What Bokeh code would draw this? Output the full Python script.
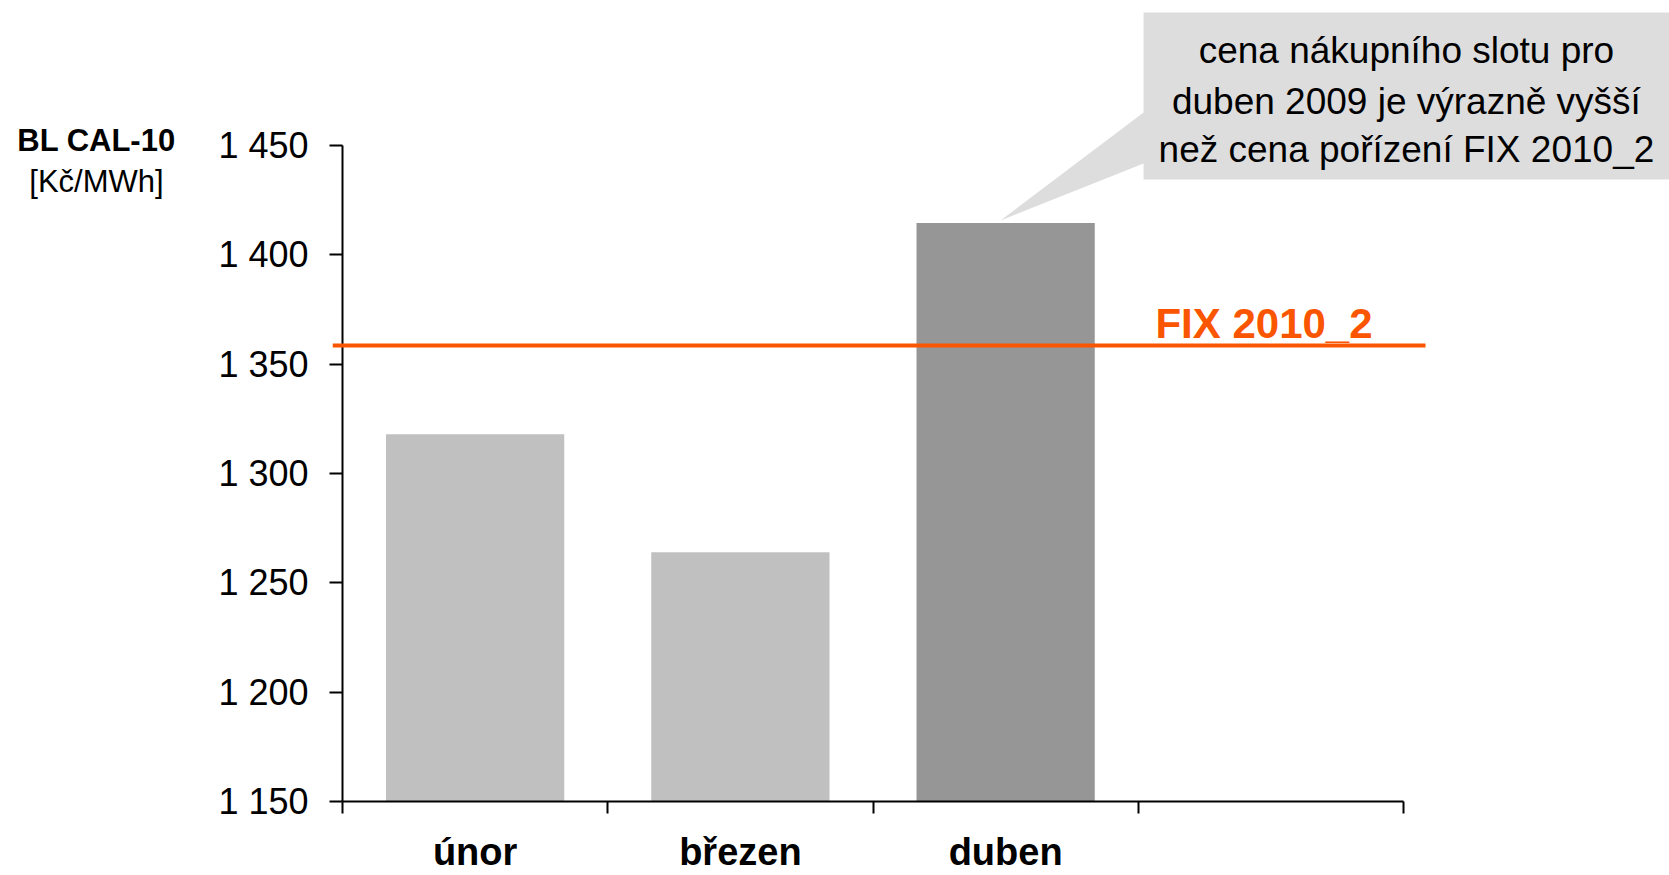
from bokeh.plotting import figure
from bokeh.layouts import row
from bokeh.models import Range1d, FixedTicker, LinearAxis, Label
from bokeh.embed import file_html
from bokeh.resources import INLINE

# ---- data ----
categories = ["únor", "březen", "duben"]
prices = [1318, 1264, 1414.5]
bar_colors = ["#C0C0C0", "#C0C0C0", "#969696"]
fix_price = 1358.5
fix_label = "FIX 2010_2"
y_ticks = [1150, 1200, 1250, 1300, 1350, 1400, 1450]
y_tick_labels = ["1 150", "1 200", "1 250", "1 300", "1 350", "1 400", "1 450"]
callout_lines = ["cena nákupního slotu pro",
                 "duben 2009 je výrazně vyšší",
                 "než cena pořízení FIX 2010_2"]
y_title = "BL CAL-10"
y_unit = "[Kč/MWh]"

FONT = "Liberation Sans"
ORANGE = "#FA5500"
n_slots = 4  # category slots on the axis (last one empty)
centers = [i + 0.5 for i in range(len(categories))]
boundaries = list(range(n_slots + 1))

W, H = 1669, 875
TITLE_W = 200

# ---- narrow panel holding the y-axis title ----
t = figure(width=TITLE_W, height=H, x_range=Range1d(0, TITLE_W), y_range=Range1d(0, H),
           output_backend="svg", toolbar_location=None,
           x_axis_type=None, y_axis_type=None,
           min_border_left=0, min_border_right=0, min_border_top=0, min_border_bottom=0)
t.grid.visible = False
t.outline_line_color = None
t.add_layout(Label(x=96, y=H - 153, text=y_title, text_font=FONT,
                   text_font_size="31px", text_font_style="bold",
                   text_color="black", text_align="center", text_baseline="alphabetic"))
t.add_layout(Label(x=96, y=H - 198, text=y_unit, text_font=FONT,
                   text_font_size="31px", text_color="black",
                   text_align="center", text_baseline="alphabetic"))

# ---- main chart ----
p = figure(width=W - TITLE_W, height=H,
           x_range=Range1d(-0.0377, 5.0028), y_range=Range1d(1150, 1516.3),
           output_backend="svg", toolbar_location=None,
           x_axis_type=None, y_axis_type=None,
           min_border_left=332 - TITLE_W, min_border_right=0,
           min_border_top=0, min_border_bottom=74)
p.grid.visible = False
p.outline_line_color = None
p.background_fill_color = "white"
p.border_fill_color = "white"

# y axis (ticks + labels); axis line drawn separately at x=0
yax = LinearAxis(ticker=FixedTicker(ticks=y_ticks, minor_ticks=[]),
                 major_label_overrides={t_: l for t_, l in zip(y_ticks, y_tick_labels)})
yax.axis_line_color = None
yax.major_tick_in = 10
yax.major_tick_out = 3
yax.major_tick_line_width = 2
yax.major_tick_line_color = "black"
yax.minor_tick_line_color = None
yax.major_label_standoff = 21
yax.major_label_text_font = FONT
yax.major_label_text_font_size = "36px"
yax.major_label_text_color = "black"
p.add_layout(yax, "left")

# x axis: category labels at slot centres, tick marks at slot boundaries
xax = LinearAxis(ticker=FixedTicker(ticks=centers, minor_ticks=boundaries),
                 major_label_overrides={c: n for c, n in zip(centers, categories)})
xax.bounds = (0, n_slots)
xax.axis_line_width = 2
xax.axis_line_color = "black"
xax.major_tick_line_color = None
xax.major_tick_in = 0
xax.major_tick_out = 0
xax.minor_tick_in = 0
xax.minor_tick_out = 12
xax.minor_tick_line_width = 2
xax.minor_tick_line_color = "black"
xax.major_label_standoff = 17
xax.major_label_text_font = FONT
xax.major_label_text_font_size = "38px"
xax.major_label_text_font_style = "bold"
xax.major_label_text_color = "black"
p.add_layout(xax, "below")

# bars
p.vbar(x=centers, top=prices, bottom=y_ticks[0], width=0.672,
       fill_color=bar_colors, line_color=None)

# y axis line
p.segment(x0=[0], y0=[y_ticks[0]], x1=[0], y1=[y_ticks[-1]],
          line_color="black", line_width=2)

# FIX reference line
p.segment(x0=[-0.0377], y0=[fix_price], x1=[4.083], y1=[fix_price],
          line_color=ORANGE, line_width=4)
p.add_layout(Label(x=3.474, y=1368.6, text=fix_label, text_font=FONT,
                   text_font_size="42px", text_font_style="bold",
                   text_color=ORANGE, text_align="center",
                   text_baseline="alphabetic"))

# callout
tip_x, tip_y = 2.481, prices[2] + 1.2
bx0, bx1, by0, by1 = 3.02, 5.1, 1434.4, 1510.8
p.patch(x=[bx0, bx1, bx1, bx0, bx0, tip_x, bx0],
        y=[by1, by1, by0, by0, 1441.8, tip_y, 1465.1],
        fill_color="#DDDDDD", line_color=None)
for line, yy in zip(callout_lines, [1493.4, 1470.1, 1448.2]):
    p.add_layout(Label(x=4.011, y=yy, text=line, text_font=FONT,
                       text_font_size="37px", text_color="black",
                       text_align="center", text_baseline="middle"))

layout = row(t, p, spacing=0)
open("out.html", "w").write(file_html(layout, INLINE))
